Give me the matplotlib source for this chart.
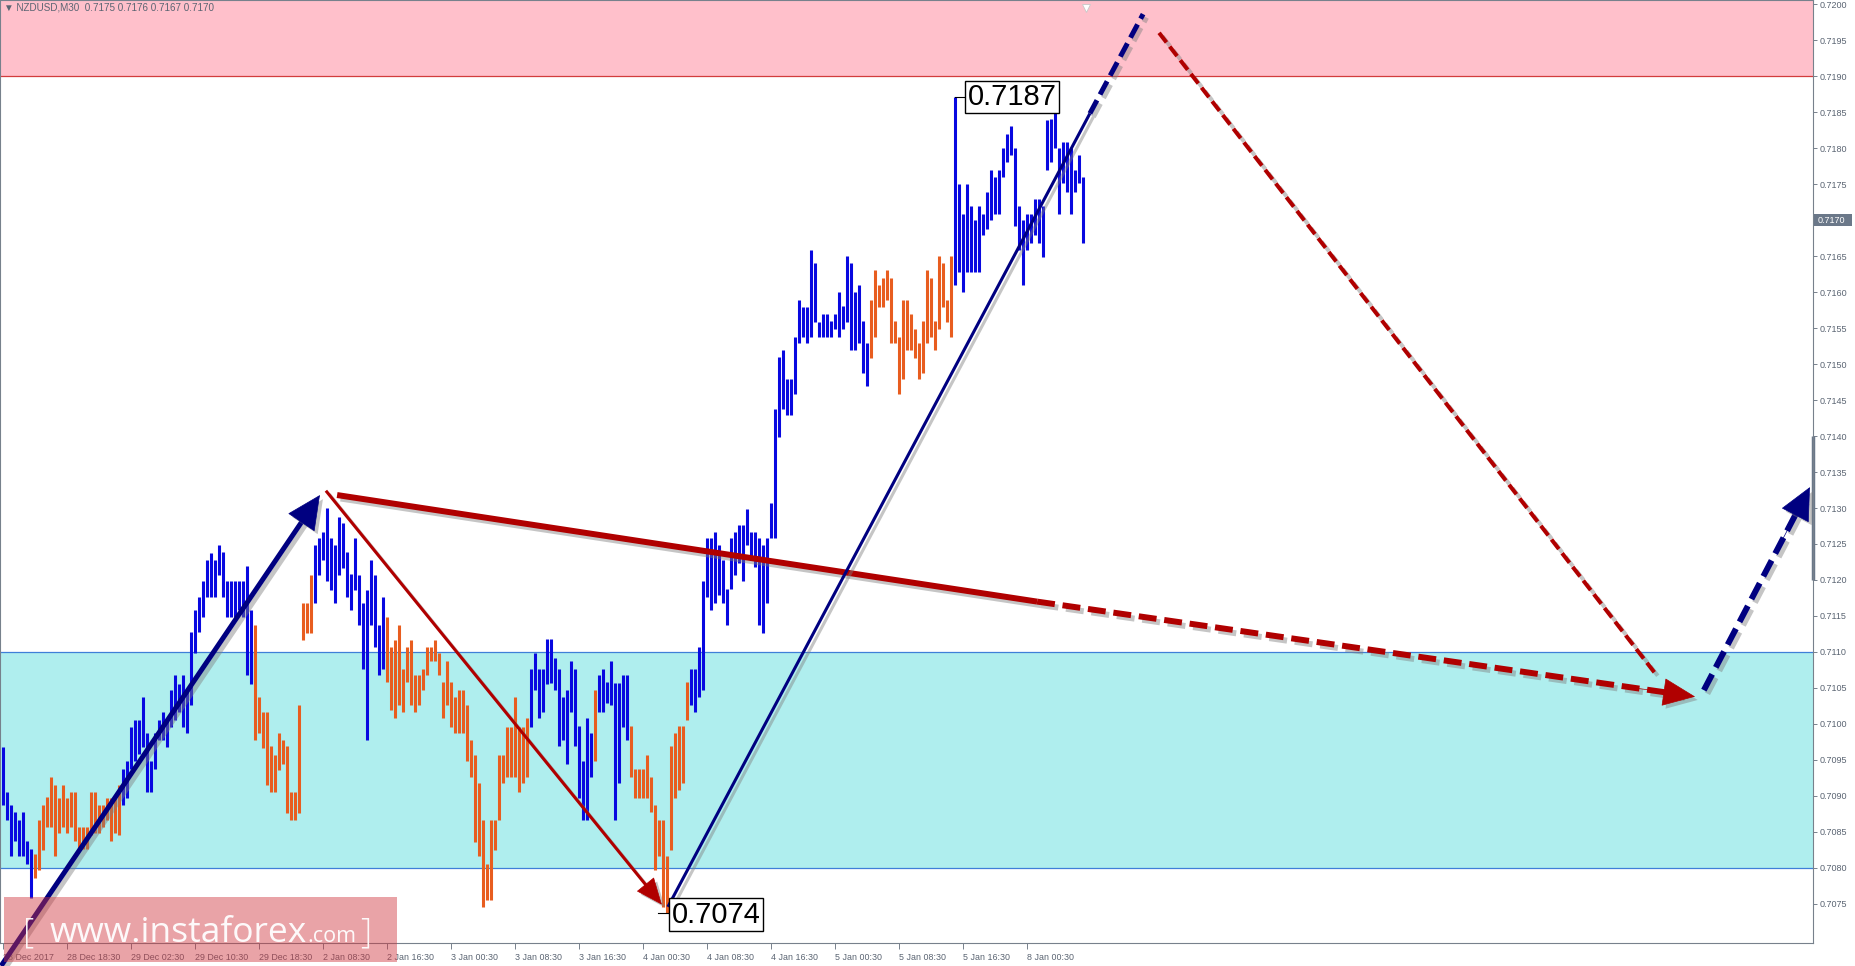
import matplotlib
matplotlib.use("Agg")
import matplotlib.pyplot as plt
import matplotlib.patheffects as pe
from matplotlib.patches import Rectangle
from matplotlib.transforms import blended_transform_factory
import numpy as np

# ---- data (NZDUSD M30, one bar per index) ----
symbol = "NZDUSD,M30"
highs = [
    0.70968, 0.70906, 0.70887, 0.70878, 0.70867, 0.70878, 0.70837, 0.70827, 0.70820, 0.70867,
    0.70887, 0.70899, 0.70927, 0.70915, 0.70897, 0.70915, 0.70897, 0.70906, 0.70906, 0.70857,
    0.70857, 0.70857, 0.70906, 0.70906, 0.70887, 0.70887, 0.70897, 0.70897, 0.70897, 0.70915,
    0.70938, 0.70948, 0.70996, 0.71006, 0.71006, 0.71038, 0.70987, 0.70948, 0.70987, 0.71006,
    0.71017, 0.71006, 0.71047, 0.71068, 0.71056, 0.71068, 0.71047, 0.71128, 0.71158, 0.71177,
    0.71198, 0.71228, 0.71237, 0.71228, 0.71249, 0.71239, 0.71198, 0.71198, 0.71198, 0.71198,
    0.71198, 0.71219, 0.71158, 0.71138, 0.71038, 0.71017, 0.71017, 0.70969, 0.70957, 0.70987,
    0.70978, 0.70969, 0.70906, 0.70906, 0.71026, 0.71168, 0.71168, 0.71207, 0.71249, 0.71258,
    0.71267, 0.71300, 0.71258, 0.71249, 0.71288, 0.71279, 0.71239, 0.71209, 0.71258, 0.71207,
    0.71168, 0.71186, 0.71228, 0.71207, 0.71137, 0.71177, 0.71149, 0.71107, 0.71117, 0.71137,
    0.71077, 0.71107, 0.71117, 0.71068, 0.71068, 0.71077, 0.71107, 0.71107, 0.71117, 0.71098,
    0.71059, 0.71087, 0.71059, 0.71038, 0.71047, 0.71047, 0.71026, 0.70978, 0.70957, 0.70918,
    0.70867, 0.70806, 0.70867, 0.70867, 0.70957, 0.70957, 0.70996, 0.70996, 0.71038, 0.70996,
    0.70996, 0.71008, 0.71077, 0.71098, 0.71077, 0.71077, 0.71118, 0.71118, 0.71091, 0.71077,
    0.71038, 0.71047, 0.71087, 0.71077, 0.70997, 0.70948, 0.71008, 0.70987, 0.71047, 0.71068,
    0.71077, 0.71059, 0.71087, 0.71057, 0.71057, 0.71068, 0.71068, 0.70997, 0.70938, 0.70938,
    0.70938, 0.70957, 0.70927, 0.70888, 0.70867, 0.70867, 0.70816, 0.70969, 0.70987, 0.70997,
    0.70997, 0.71059, 0.71077, 0.71077, 0.71107, 0.71198, 0.71258, 0.71258, 0.71267, 0.71249,
    0.71228, 0.71188, 0.71258, 0.71267, 0.71276, 0.71276, 0.71298, 0.71267, 0.71267, 0.71258,
    0.71249, 0.71258, 0.71307, 0.71438, 0.71510, 0.71519, 0.71479, 0.71479, 0.71538, 0.71589,
    0.71579, 0.71579, 0.71659, 0.71640, 0.71559, 0.71569, 0.71569, 0.71560, 0.71569, 0.71600,
    0.71580, 0.71650, 0.71640, 0.71600, 0.71610, 0.71560, 0.71529, 0.71589, 0.71630, 0.71610,
    0.71619, 0.71630, 0.71619, 0.71560, 0.71538, 0.71589, 0.71589, 0.71569, 0.71548, 0.71529,
    0.71560, 0.71630, 0.71619, 0.71560, 0.71650, 0.71640, 0.71589, 0.71650, 0.71871, 0.71750,
    0.71709, 0.71750, 0.71719, 0.71700, 0.71719, 0.71709, 0.71739, 0.71769, 0.71760, 0.71769,
    0.71800, 0.71820, 0.71830, 0.71800, 0.71719, 0.71700, 0.71709, 0.71709, 0.71729, 0.71729,
    0.71719, 0.71839, 0.71840, 0.71850, 0.71800, 0.71809, 0.71809, 0.71800, 0.71769, 0.71790,
    0.71760,
]
lows = [
    0.70887, 0.70867, 0.70816, 0.70837, 0.70816, 0.70816, 0.70806, 0.70758, 0.70786, 0.70797,
    0.70825, 0.70857, 0.70857, 0.70816, 0.70848, 0.70857, 0.70848, 0.70857, 0.70837, 0.70827,
    0.70827, 0.70827, 0.70846, 0.70848, 0.70848, 0.70857, 0.70867, 0.70837, 0.70848, 0.70846,
    0.70887, 0.70897, 0.70938, 0.70948, 0.70959, 0.70968, 0.70906, 0.70906, 0.70938, 0.70978,
    0.70978, 0.70968, 0.70996, 0.71006, 0.71017, 0.70996, 0.70987, 0.71026, 0.71098, 0.71128,
    0.71149, 0.71177, 0.71177, 0.71177, 0.71207, 0.71177, 0.71149, 0.71149, 0.71149, 0.71158,
    0.71149, 0.71068, 0.71056, 0.70978, 0.70987, 0.70966, 0.70915, 0.70906, 0.70906, 0.70936,
    0.70945, 0.70876, 0.70867, 0.70867, 0.70876, 0.71117, 0.71126, 0.71126, 0.71168, 0.71207,
    0.71228, 0.71198, 0.71186, 0.71168, 0.71207, 0.71216, 0.71177, 0.71158, 0.71186, 0.71137,
    0.71077, 0.70978, 0.71137, 0.71107, 0.71068, 0.71077, 0.71059, 0.71019, 0.71008, 0.71026,
    0.71017, 0.71059, 0.71026, 0.71017, 0.71026, 0.71047, 0.71068, 0.71087, 0.71087, 0.71068,
    0.71008, 0.71026, 0.70996, 0.70987, 0.70987, 0.70987, 0.70948, 0.70927, 0.70836, 0.70816,
    0.70746, 0.70756, 0.70756, 0.70825, 0.70867, 0.70918, 0.70927, 0.70927, 0.70927, 0.70906,
    0.70918, 0.70927, 0.70996, 0.71047, 0.71008, 0.71017, 0.71056, 0.71057, 0.71047, 0.70969,
    0.70978, 0.70945, 0.71017, 0.70969, 0.70897, 0.70867, 0.70867, 0.70927, 0.70948, 0.71017,
    0.71017, 0.71029, 0.71026, 0.70867, 0.70918, 0.70996, 0.70978, 0.70927, 0.70897, 0.70897,
    0.70897, 0.70897, 0.70878, 0.70797, 0.70816, 0.70746, 0.70737, 0.70825, 0.70897, 0.70908,
    0.70918, 0.71006, 0.71026, 0.71017, 0.71038, 0.71047, 0.71177, 0.71158, 0.71168, 0.71179,
    0.71168, 0.71137, 0.71188, 0.71207, 0.71223, 0.71198, 0.71249, 0.71228, 0.71218, 0.71137,
    0.71127, 0.71168, 0.71258, 0.71258, 0.71399, 0.71438, 0.71429, 0.71429, 0.71459, 0.71529,
    0.71538, 0.71529, 0.71538, 0.71559, 0.71538, 0.71538, 0.71538, 0.71538, 0.71548, 0.71538,
    0.71548, 0.71559, 0.71519, 0.71519, 0.71529, 0.71488, 0.71469, 0.71508, 0.71538, 0.71579,
    0.71579, 0.71589, 0.71529, 0.71529, 0.71458, 0.71479, 0.71519, 0.71519, 0.71509, 0.71479,
    0.71488, 0.71529, 0.71538, 0.71519, 0.71548, 0.71579, 0.71559, 0.71538, 0.71610, 0.71628,
    0.71600, 0.71628, 0.71628, 0.71628, 0.71628, 0.71679, 0.71688, 0.71700, 0.71709, 0.71709,
    0.71760, 0.71781, 0.71790, 0.71691, 0.71658, 0.71610, 0.71658, 0.71668, 0.71679, 0.71668,
    0.71649, 0.71769, 0.71781, 0.71800, 0.71709, 0.71751, 0.71739, 0.71709, 0.71739, 0.71751,
    0.71668,
]
# indicator colouring of the bars: (state, number of bars)
trend_runs = [("B", 8), ("O", 22), ("B", 33), ("O", 15), ("B", 18), ("O", 36), ("B", 16),
              ("O", 1), ("B", 8), ("O", 15), ("B", 45), ("O", 21), ("B", 33)]
last_open = 0.7175
last_close = 0.7170

time_labels = ["28 Dec 2017", "28 Dec 18:30", "29 Dec 02:30", "29 Dec 10:30", "29 Dec 18:30",
               "2 Jan 08:30", "2 Jan 16:30", "3 Jan 00:30", "3 Jan 08:30", "3 Jan 16:30",
               "4 Jan 00:30", "4 Jan 08:30", "4 Jan 16:30", "5 Jan 00:30", "5 Jan 08:30",
               "5 Jan 16:30", "8 Jan 00:30"]
bars_per_label = 16
price_ticks = [0.7075, 0.7080, 0.7085, 0.7090, 0.7095, 0.7100, 0.7105, 0.7110, 0.7115,
               0.7120, 0.7125, 0.7130, 0.7135, 0.7140, 0.7145, 0.7150, 0.7155, 0.7160,
               0.7165, 0.7170, 0.7175, 0.7180, 0.7185, 0.7190, 0.7195, 0.7200]

resistance_zone = (0.7190, 0.7202)
support_zone = (0.7080, 0.7110)

# wave marks (bar index, price)
wave_a_up = [(-0.4, 0.70664), (79.3, 0.71318)]
wave_b_down = [(80.8, 0.71324), (164.8, 0.70749)]
big_wave_down = [(83.6, 0.71318), (258.6, 0.71170), (423.1, 0.71038)]
wave_c_up = [(166.3, 0.70746), (271.8, 0.71848), (285.1, 0.71986)]
forecast_down = [(289.1, 0.71960), (413.3, 0.71069)]
forecast_up = [(425.3, 0.71047), (451.8, 0.71329)]

# ---- figure ----
W, H = 1855, 966
fig = plt.figure(figsize=(W / 100, H / 100), dpi=100)
fig.patch.set_facecolor("white")
ax = fig.add_axes([0, 23 / H, 1813 / W, 943 / H])
ax.set_xlim(-0.675, 452.58)
ax.set_ylim(0.706958, 0.720056)

grey = "#5a6472"
navy = "#000080"
red = "#b00000"
blue_bar = "#0808e0"
orange_bar = "#e85d1f"
font = ["Liberation Sans", "DejaVu Sans"]

ax.axhspan(*resistance_zone, facecolor="#ffc0cb", edgecolor="none", zorder=0.5)
ax.axhline(resistance_zone[0], color="#d23c3c", lw=0.9, zorder=0.6)
ax.axhspan(*support_zone, facecolor="#afeeee", edgecolor="none", zorder=0.5)
for p in support_zone:
    ax.axhline(p, color="#3f7fd8", lw=0.9, zorder=0.6)

idx = np.arange(len(highs))
states = "".join(s * n for s, n in trend_runs)
cols = [blue_bar if s == "B" else orange_bar for s in states]
ax.vlines(idx, lows, highs, colors=cols, linewidth=2.2, zorder=2)

shadow = [pe.SimpleLineShadow(offset=(2.5, -2.5), shadow_color="#7f7f7f", alpha=0.45), pe.Normal()]
head_shadow = [pe.withSimplePatchShadow(offset=(2.5, -2.5), shadow_rgbFace="#7f7f7f", alpha=0.45)]


def back_off(p0, p1, px):
    a = ax.transData.transform(p0)
    b = ax.transData.transform(p1)
    d = b - a
    c = b - d / np.hypot(*d) * px
    return tuple(ax.transData.inverted().transform(c))


def line(p0, p1, color, lw, dashed=False, clip=True):
    ls = (0, (3, 1.3)) if dashed else "-"
    ax.plot([p0[0], p1[0]], [p0[1], p1[1]], color=color, lw=lw, ls=ls,
            solid_capstyle="butt", dash_capstyle="butt", zorder=3,
            path_effects=shadow, clip_on=clip)


def head(p0, p1, color, length, width):
    ax.annotate("", xy=p1, xytext=back_off(p0, p1, 60),
                arrowprops=dict(arrowstyle=f"-|>,head_length={length},head_width={width}",
                                color=color, lw=0.5, shrinkA=0, shrinkB=0,
                                mutation_scale=10, path_effects=head_shadow),
                annotation_clip=False, zorder=4)


# wave a: thick navy arrow
line(wave_a_up[0], back_off(*wave_a_up, 14), navy, 3.6, clip=False)
head(*wave_a_up, navy, 2.3, 1.1)
# wave b: thin red arrow
line(wave_b_down[0], back_off(*wave_b_down, 12), red, 2.2)
head(*wave_b_down, red, 1.8, 0.75)
# large red arrow: solid then dashed
line(big_wave_down[0], big_wave_down[1], red, 4.3)
line(big_wave_down[1], back_off(big_wave_down[1], big_wave_down[2], 14), red, 4.3, dashed=True)
head(big_wave_down[1], big_wave_down[2], red, 2.2, 0.95)
# wave c: thin navy line, dashed extension
line(wave_c_up[0], wave_c_up[1], navy, 2.2)
line(wave_c_up[1], wave_c_up[2], navy, 3.6, dashed=True)
# forecasts
line(forecast_down[0], forecast_down[1], red, 2.9, dashed=True)
line(forecast_up[0], back_off(*forecast_up, 14), navy, 4.3, dashed=True)
head(*forecast_up, navy, 2.2, 1.05)

# extreme price labels
hi_i = int(np.argmax(highs))
lo_i = int(np.argmin(lows))
box = dict(boxstyle="square,pad=0.08", fc="white", ec="black", lw=1)
ax.plot([hi_i, hi_i + 2.8], [highs[hi_i]] * 2, color="black", lw=0.8, zorder=5)
ax.text(hi_i + 3.2, highs[hi_i], f"{highs[hi_i]:.4f}", ha="left", va="center",
        fontsize=21, family=font, bbox=box, zorder=6)
ax.plot([lo_i - 2.1, lo_i + 0.6], [lows[lo_i]] * 2, color="black", lw=0.8, zorder=5)
ax.text(lo_i + 1.2, lows[lo_i] - 0.00002, f"{lows[lo_i]:.4f}", ha="left", va="center",
        fontsize=21, family=font, bbox=box, zorder=6)

# axes styling
for s in ax.spines.values():
    s.set_color("#77818c")
    s.set_linewidth(0.8)
ax.yaxis.tick_right()
ax.set_yticks(price_ticks)
ax.set_yticklabels([f"{p:.4f}" for p in price_ticks])
ax.tick_params(axis="y", length=3, width=0.7, color="#77818c", labelsize=6.5,
               labelcolor=grey, pad=2)
ax.set_xticks(idx[::bars_per_label][:len(time_labels)])
ax.set_xticklabels(time_labels)
ax.tick_params(axis="x", length=4, width=0.7, color="#77818c", labelsize=6.4,
               labelcolor=grey, pad=3)
for t in ax.get_xticklabels() + ax.get_yticklabels():
    t.set_family(font)
for t in ax.get_xticklabels():
    t.set_ha("left")

# scroll marker on the price scale and the current price tag
bt = blended_transform_factory(ax.transAxes, ax.transData)
ax.plot([1, 1], [0.7120, 0.7140], transform=bt, color="#6b7889", lw=2.5, clip_on=False,
        solid_capstyle="butt")
ax.add_patch(Rectangle((1 + 1 / 1813, last_close - 0.00009), 38 / 1813, 0.00018,
                       transform=bt, fc="#6b7889", ec="none", clip_on=False, zorder=5))
ax.text(1 + 5 / 1813, last_close, f"{last_close:.4f}", transform=bt, color="white",
        fontsize=6.5, family=font, va="center", ha="left", zorder=6, clip_on=False)

# chart shift marker and header
ax.plot([len(highs) - 0.2], [0.71995], marker="v", ms=6, mfc="white", mec="#c8c8c8",
        mew=0.6, zorder=5, clip_on=False)
ax.text(4 / 1813, 1 - 2.5 / 943,
        f"\u25bc {symbol}  {last_open:.4f} {highs[-1]:.4f} {lows[-1]:.4f} {last_close:.4f}",
        transform=ax.transAxes, ha="left", va="top", fontsize=7.1, color=grey,
        family=font, zorder=6)

# watermark
fig.add_artist(Rectangle((4 / W, 4 / H), 393 / W, 65 / H, transform=fig.transFigure,
                         fc="#d0343c", alpha=0.45, ec="none", zorder=20))
rend = fig.canvas.get_renderer()
wm_font = ["Open Sans", "DejaVu Sans"]
base_y = (H - 942) / H


def wm_text(x_px, txt, size, weight="normal"):
    t = fig.text(x_px / W, base_y, txt, fontsize=size, color="white", alpha=0.95,
                 family=wm_font, fontweight=weight, ha="left", va="baseline", zorder=21)
    return x_px + t.get_window_extent(rend).width


wm_text(23, "[", 25, "light")
x_end = wm_text(50, "www.instaforex", 25.5)
x_end = wm_text(x_end, ".com", 15.5)
wm_text(x_end + 4, "]", 25, "light")

fig.savefig("out.png", dpi=100)
